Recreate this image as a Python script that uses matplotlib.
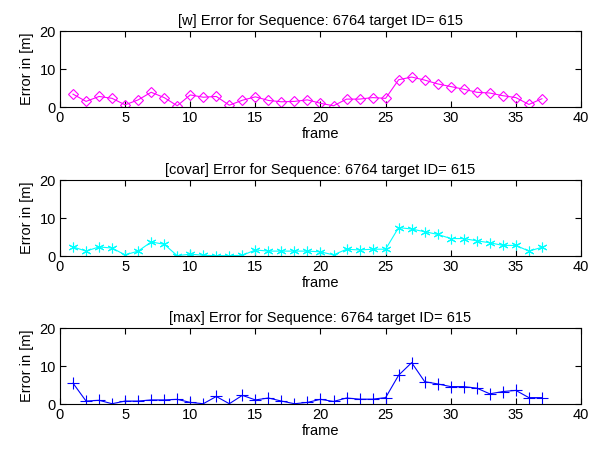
import numpy as np
import matplotlib
matplotlib.use('Agg')
import matplotlib.pyplot as plt

plt.rcParams['font.family'] = ['Liberation Sans', 'DejaVu Sans']

frames = list(range(1, 38))
err_w = [3.4, 1.5, 2.8, 2.3, 0.6, 1.9, 3.9, 2.5, 0.35, 3.2, 2.6, 2.8, 0.5, 1.8, 2.7, 1.75, 1.4, 1.5, 1.9, 1.0,
         0.35, 2.1, 2.1, 2.5, 2.3, 7.2, 7.9, 7.1, 6.1, 5.4, 4.7, 3.9, 3.7, 3.0, 2.5, 0.7, 2.2]
err_covar = [2.4, 1.3, 2.4, 2.1, 0.3, 1.3, 3.7, 3.1, 0.1, 0.5, 0.2, 0.1, 0.1, 0.2, 1.6, 1.3, 1.3, 1.3, 1.3, 1.1,
             0.3, 1.8, 1.6, 1.8, 1.8, 7.5, 7.1, 6.4, 5.7, 4.6, 4.6, 4.0, 3.5, 2.8, 2.8, 1.3, 2.3]
err_max = [5.5, 0.8, 1.0, 0.1, 0.8, 0.8, 1.1, 1.1, 1.25, 0.45, 0.1, 2.0, 0.1, 2.3, 1.1, 1.6, 0.8, 0.1, 0.45, 1.25,
           0.7, 1.6, 1.3, 1.3, 1.7, 7.6, 10.9, 5.9, 5.3, 4.6, 4.6, 4.2, 2.7, 3.3, 3.6, 1.7, 1.7]

panels = [
    ('[w] Error for Sequence: 6764 target ID= 615', err_w, '#ff00ff', 'D', 5.5),
    ('[covar] Error for Sequence: 6764 target ID= 615', err_covar, '#00ffff', (6, 2, 0), 7),
    ('[max] Error for Sequence: 6764 target ID= 615', err_max, '#0000ff', '+', 8),
]
bottoms = [0.762, 0.431, 0.102]

fig = plt.figure(figsize=(6.03, 4.5), dpi=100)
for (title, vals, col, mk, ms), b in zip(panels, bottoms):
    ax = fig.add_axes([0.0995, b, 0.864, 0.169])
    ax.plot(frames, vals, color=col, marker=mk, markersize=ms, markerfacecolor='none',
            markeredgecolor=col, linewidth=0.8, markeredgewidth=0.8)
    ax.set_xlim(0, 40)
    ax.set_ylim(0, 20)
    ax.set_xticks(range(0, 41, 5))
    ax.set_yticks([0, 10, 20])
    ax.tick_params(direction='in', top=True, right=True, labelsize=10.5, length=4, pad=3)
    ax.set_title(title, fontsize=10.5, pad=4)
    ax.set_xlabel('frame', fontsize=10.5, labelpad=1)
    ax.set_ylabel('Error in [m]', fontsize=10.5, labelpad=4)

fig.savefig('out.png', dpi=100)
